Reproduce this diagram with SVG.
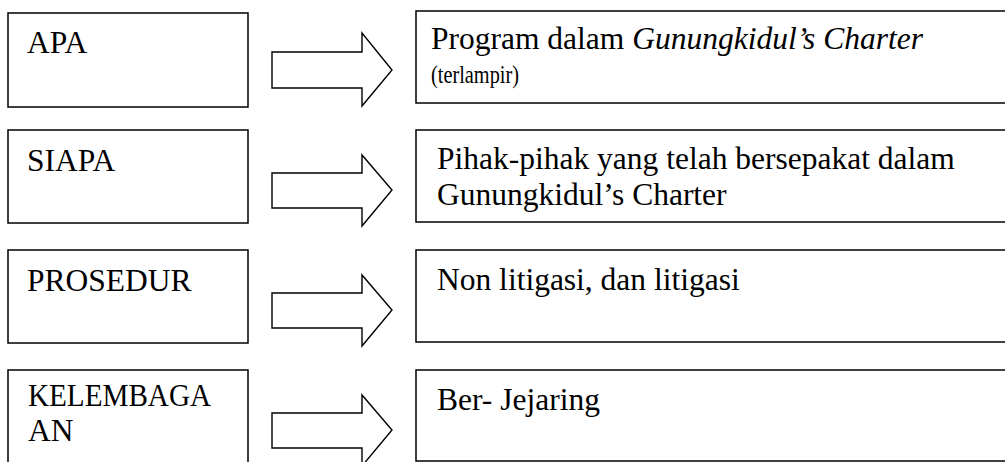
<svg xmlns="http://www.w3.org/2000/svg" width="1005" height="462" viewBox="0 0 1005 462">
<style>
.box{fill:#fff;stroke:#000;stroke-width:1.5}
.arrow{fill:#fff;stroke:#000;stroke-width:1.4;stroke-linejoin:miter}
text{font-family:'Liberation Serif','DejaVu Serif',serif;font-size:31.5px;fill:#000}
.s{font-size:25px}
.i{font-style:italic}
</style>
<rect width="1005" height="462" fill="#fff"/>
<g id="apa"><rect class="box" x="8" y="13" width="240" height="94"/><text x="27" y="53">APA</text></g>
<g id="siapa"><rect class="box" x="8" y="130" width="240" height="93"/><text x="27" y="171">SIAPA</text></g>
<g id="prosedur"><rect class="box" x="8" y="250" width="240" height="93"/><text x="27" y="291">PROSEDUR</text></g>
<g id="kelembagaan"><rect class="box" x="8" y="370" width="240" height="100"/><text x="28" y="406" textLength="183" lengthAdjust="spacingAndGlyphs">KELEMBAGA</text><text x="28" y="441">AN</text></g>
<g id="program"><rect class="box" x="416" y="11" width="600" height="92"/><text x="431" y="49">Program dalam <tspan class="i">Gunungkidul’s Charter</tspan></text><text class="s" x="431" y="83" textLength="88" lengthAdjust="spacingAndGlyphs">(terlampir)</text></g>
<g id="pihak"><rect class="box" x="416" y="130" width="600" height="92"/><text x="437" y="169">Pihak-pihak yang telah bersepakat dalam</text><text x="437" y="205">Gunungkidul’s Charter</text></g>
<g id="litigasi"><rect class="box" x="416" y="250" width="600" height="92"/><text x="437" y="290">Non litigasi, dan litigasi</text></g>
<g id="jejaring"><rect class="box" x="416" y="370" width="600" height="91"/><text x="437" y="410">Ber- Jejaring</text></g>
<g id="connectors">
<polygon class="arrow" points="272,52 362,52 362,33 392,70 362,106 362,88 272,88"/>
<polygon class="arrow" points="272,173 362,173 362,155 392,190 362,226 362,208 272,208"/>
<polygon class="arrow" points="272,293 362,293 362,275 392,310 362,346 362,328 272,328"/>
<polygon class="arrow" points="272,413 362,413 362,395 392,430 362,466 362,448 272,448"/>
</g>
</svg>
